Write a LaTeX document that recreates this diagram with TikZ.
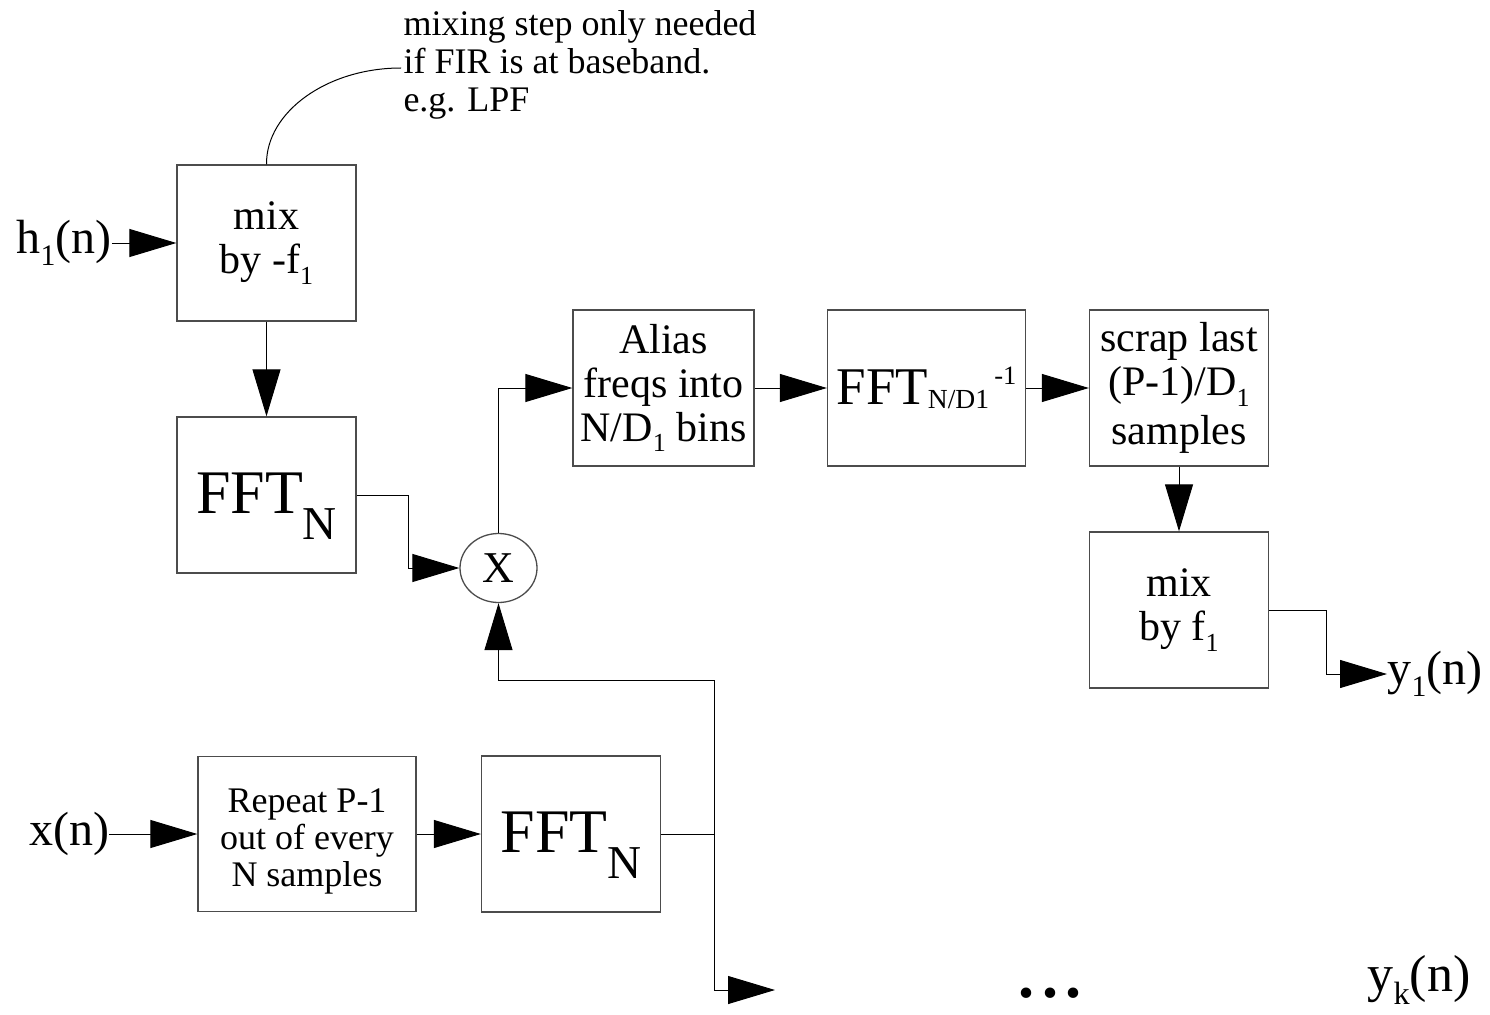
\documentclass[tikz,border=0pt]{standalone}
\usepackage{graphicx}
\usepackage{fontspec}
\setmainfont{Liberation Serif}
\usetikzlibrary{shapes.geometric,arrows.meta}

\newcommand\lo[1]{\raisebox{-.25em}{\scalebox{.62}{#1}}}

\begin{document}
\begin{tikzpicture}[x=1pt,y=-1pt,
  blk/.style={draw=black!70, line width=1.3pt, minimum width=179pt, minimum height=156pt, inner sep=0pt, align=center, font=\fontsize{42}{44}\selectfont},
  fftbox/.style={font=\fontsize{62}{62}\selectfont, text height=50pt, text depth=14pt},
  lbl/.style={inner sep=0pt, font=\fontsize{48}{50}\selectfont},
  arr/.style={-{Triangle[length=47pt,width=28pt]}},
  every path/.style={line width=1pt}]
\useasboundingbox (0,0) rectangle (1490,1014);
\node[lbl] (hin) at (64,243) {h\lo{1}(n)};
\node[blk] (mixa) at (266.5,243) {mix\\by -f\lo{1}};
\node[blk,fftbox] (ffta) at (266.5,495) {FFT\raisebox{-.42em}{\scalebox{.76}{N}}};
\node[draw=black!70, line width=1.3pt, ellipse, minimum width=77pt, minimum height=69pt, inner sep=0pt, font=\fontsize{44}{44}\selectfont] (mult) at (498.5,568) {X};
\node[blk, minimum width=181pt] (alias) at (663.5,388) {Alias\\freqs into\\N/D\lo{1} bins};
\node[blk, minimum width=198pt, font=\fontsize{53}{53}\selectfont] (ifft) at (926.5,388) {FFT\raisebox{-.08em}{\scalebox{.52}{N/D1}}\hspace{.1em}\raisebox{.38em}{\scalebox{.5}{-1}}};
\node[blk] (scrap) at (1179,388) {scrap last\\(P-1)/D\lo{1}\\[5pt]samples};
\node[blk] (mixb) at (1179,610) {mix\\by f\lo{1}};
\node[lbl, anchor=west] (yone) at (1387,674) {y\lo{1}(n)};
\node[lbl] (xin) at (69,834) {x(n)};
\node[blk, minimum width=218pt, minimum height=155pt, font=\fontsize{36}{37}\selectfont] (rep) at (307,834) {\rule{0pt}{38pt}Repeat P-1\\out of every\\N samples};
\node[blk,fftbox] (fftb) at (571,834) {FFT\raisebox{-.42em}{\scalebox{.76}{N}}};
\node[inner sep=0pt, font=\bfseries\fontsize{64}{64}\selectfont] (dots) at (1050,993) {.\hspace{.11em}.\hspace{.11em}.};
\node[lbl, font=\fontsize{52}{54}\selectfont] (yk) at (1419,980) {y\lo{k}(n)};
\node[inner sep=0pt, anchor=north west, align=left, font=\fontsize{36}{38}\selectfont] (note) at (403,10) {mixing step only needed\\if FIR is at baseband.\\e.g. LPF};
\coordinate (notein) at (401,68);
\coordinate (kout) at (775,990);
% filter branch
\draw[arr] (hin) -- (mixa);
\draw[arr] (mixa) -- (ffta);
\draw[arr] (ffta.east) -- ++(52,0) |- (mult);
\draw (mixa.north) .. controls (266,112) and (327,68) .. (notein);
% main chain
\draw[arr] (mult) |- (alias);
\draw[arr] (alias) -- (ifft);
\draw[arr] (ifft) -- (scrap);
\draw[arr] (scrap) -- (mixb);
\draw[arr] (mixb.east) -- ++(57,0) |- (yone);
% signal branch
\draw[arr] (xin) -- (rep);
\draw[arr] (rep) -- (fftb);
\draw (fftb.east) -- ++(53,0) coordinate (split);
\draw[arr] (split) -- ++(0,-154) -| (mult);
\draw[arr] (split) |- (kout);
\end{tikzpicture}
\end{document}
